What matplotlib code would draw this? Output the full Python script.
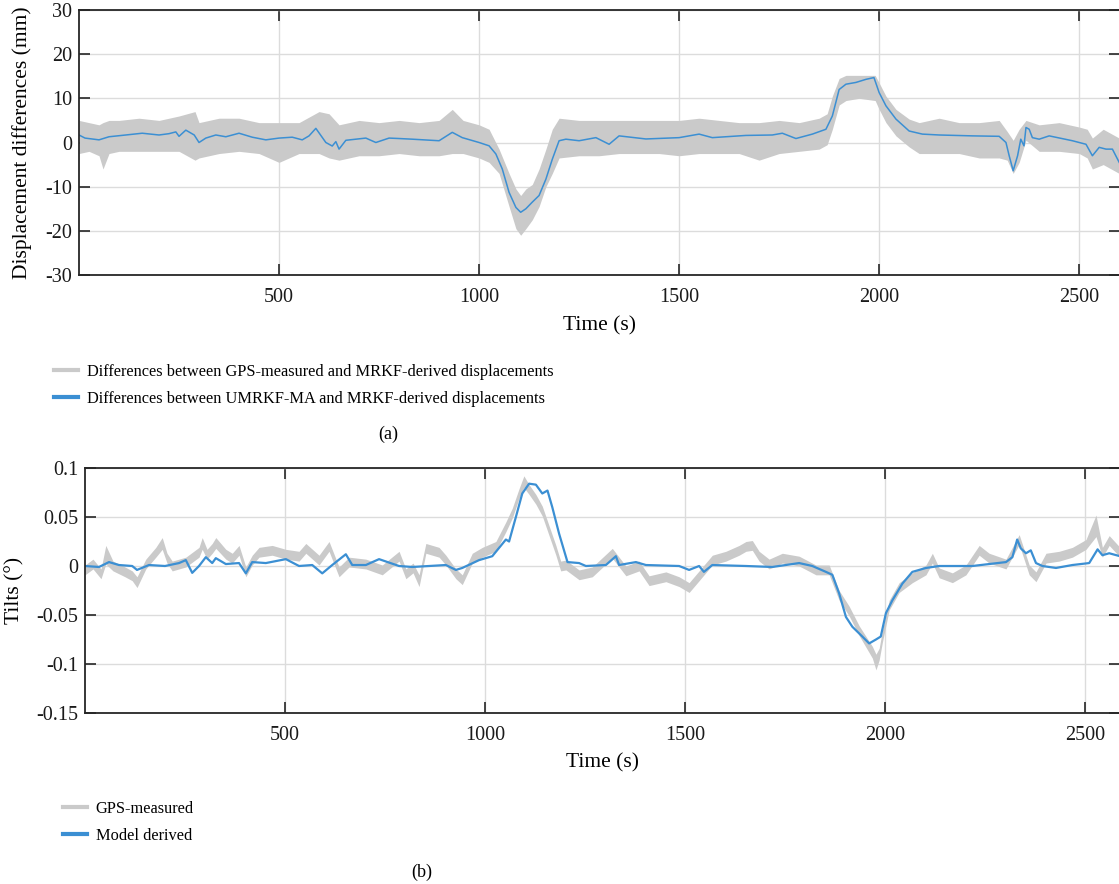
import numpy as np
import matplotlib
matplotlib.use('Agg')
import matplotlib.pyplot as plt
from matplotlib.lines import Line2D

plt.rcParams['font.family'] = ['Liberation Serif', 'DejaVu Serif']
plt.rcParams['axes.unicode_minus'] = False

# ---- (a) displacement differences (mm) ----
t_blue_a = [0, 15, 50, 75, 117, 158, 200, 225, 242, 250, 267, 288, 300, 317, 342, 367, 400, 433, 467, 500,
            533, 558, 575, 592, 617, 633, 642, 650, 667, 717, 742, 775, 800, 833, 900, 933, 958, 1000, 1025,
            1042, 1058, 1075, 1092, 1104, 1117, 1133, 1150, 1167, 1183, 1200, 1217, 1250, 1292, 1325, 1350,
            1417, 1500, 1550, 1583, 1667, 1733, 1758, 1792, 1833, 1867, 1883, 1900, 1917, 1942, 1967, 1987,
            2000, 2017, 2042, 2075, 2108, 2150, 2233, 2300, 2317, 2325, 2335, 2346, 2354, 2362, 2367, 2375,
            2383, 2400, 2425, 2483, 2517, 2533, 2550, 2567, 2583, 2600]
umrkf_a = [1.7, 1.0, 0.6, 1.3, 1.7, 2.1, 1.7, 2.0, 2.4, 1.4, 2.8, 1.7, 0.0, 1.0, 1.7, 1.3, 2.1, 1.2, 0.6, 1.0,
           1.2, 0.6, 1.5, 3.2, 0.0, -0.8, 0.2, -1.5, 0.5, 1.0, 0.0, 1.0, 0.9, 0.75, 0.4, 2.3, 1.1, 0.0, -0.75,
           -2.6, -6.0, -11.3, -14.7, -15.8, -15.0, -13.5, -12.0, -8.3, -3.8, 0.4, 0.75, 0.4, 1.1, -0.4, 1.5,
           0.8, 1.1, 1.9, 1.1, 1.6, 1.7, 2.1, 0.9, 1.9, 3.0, 6.0, 12.0, 13.2, 13.6, 14.3, 14.7,
           11.3, 8.3, 5.3, 2.6, 1.9, 1.7, 1.5, 1.4, 0.0, -3.0, -6.4, -3.0, 0.75, -0.75, 3.4, 3.0,
           1.1, 0.75, 1.5, 0.4, -0.4, -3.0, -1.1, -1.5, -1.5, -4.5]

t_gps_a = [0, 25, 50, 60, 75, 100, 150, 200, 250, 290, 300, 350, 400, 450, 500, 550, 600, 625, 650, 700,
           750, 800, 850, 900, 933, 960, 1000, 1025, 1050, 1075, 1092, 1104, 1117, 1133, 1150, 1167, 1183,
           1200, 1250, 1300, 1350, 1400, 1450, 1500, 1550, 1600, 1650, 1700, 1750, 1800, 1850, 1870, 1883,
           1900, 1917, 1950, 1990, 2000, 2017, 2042, 2075, 2100, 2150, 2200, 2250, 2300, 2320, 2335, 2350,
           2367, 2400, 2450, 2500, 2520, 2533, 2560, 2600]
gps_hi_a = [5, 4.5, 4, 4.5, 5, 5, 5.5, 5, 6, 7, 4.5, 5.5, 5.5, 4.5, 4.5, 4.5, 7, 6.5, 4, 5,
            4.5, 5, 4.5, 5, 7.5, 5, 4, 3, -1.5, -7, -10.5, -12, -10.5, -9.5, -6, -1.5, 3,
            5.5, 5, 5, 5, 5, 5, 5, 5.5, 5, 4.5, 4.5, 5, 4.5, 5.5, 6.5, 10.5,
            14.5, 15.2, 15.2, 15.2, 13.5, 10.5, 7.5, 5.3, 4.5, 5.5, 4.5, 4.5, 5, 2.5, 0.5, 3,
            5, 4, 4.5, 3.5, 3, 1, 3, 1]
gps_lo_a = [-2.5, -2, -3, -6, -2.5, -2, -2, -2, -2, -4, -3.5, -2.5, -2, -2.5, -4.5, -2.5, -2.5, -3.5, -4, -3,
            -3, -2.5, -3, -3, -2.5, -2.5, -3.5, -4.5, -7, -14.5, -19.5, -21, -19.5, -17.5, -14.5, -10, -7,
            -3.5, -3, -3, -2.5, -2.5, -2.5, -3, -2.5, -2.5, -2.5, -4, -2.5, -2, -1.5, -0.5, 3,
            8.5, 9.5, 10, 9.5, 7.5, 4.5, 1.5, -1, -2.5, -2.5, -2.5, -3.5, -3.5, -4, -7, -4.5,
            0.5, -2, -2, -2.5, -3.5, -6, -5, -7]

# ---- (b) tilts (deg) ----
t_blue_b = [0, 35, 60, 85, 118, 130, 160, 200, 235, 252, 268, 285, 302, 318, 327, 352, 385, 402, 418, 452,
            502, 535, 568, 593, 618, 652, 668, 702, 735, 785, 818, 902, 927, 943, 985, 1018, 1052, 1060, 1077,
            1093, 1110, 1127, 1143, 1156, 1168, 1185, 1206, 1235, 1252, 1302, 1327, 1335, 1377, 1402, 1485,
            1510, 1535, 1547, 1568, 1652, 1718, 1785, 1818, 1852, 1868, 1885, 1902, 1918, 1943, 1960, 1977,
            1989, 2002, 2018, 2043, 2068, 2102, 2135, 2218, 2302, 2318, 2330, 2339, 2352, 2364, 2377, 2393,
            2427, 2468, 2510, 2531, 2543, 2560, 2587]
model_b = [0.000, -0.001, 0.004, 0.001, 0.000, -0.004, 0.001, 0.000, 0.003, 0.006, -0.007, 0.000, 0.009, 0.003,
           0.008, 0.002, 0.003, -0.0075, 0.004, 0.003, 0.007, 0.000, 0.001, -0.0075, 0.001, 0.012, 0.001, 0.001,
           0.007, 0.000, -0.001, 0.001, -0.004, -0.002, 0.006, 0.010, 0.027, 0.025, 0.050, 0.074, 0.084, 0.083,
           0.074, 0.077, 0.060, 0.033, 0.004, 0.003, 0.000, 0.001, 0.010, 0.001, 0.004, 0.001, 0.000, -0.004,
           0.000, -0.006, 0.001, 0.000, -0.001, 0.003, 0.000, -0.006, -0.009, -0.028, -0.052, -0.062, -0.072,
           -0.079, -0.075, -0.072, -0.048, -0.035, -0.018, -0.006, -0.002, 0.000, 0.000, 0.004, 0.009, 0.027,
           0.018, 0.013, 0.016, 0.003, 0.000, -0.002, 0.001, 0.003, 0.017, 0.011, 0.013, 0.010]

t_gps_b = [0, 20, 40, 52, 70, 100, 118, 130, 152, 177, 193, 205, 218, 252, 285, 293, 305, 318, 327, 352, 368,
           385, 402, 418, 435, 468, 502, 535, 552, 585, 610, 635, 660, 702, 743, 785, 802, 820, 835, 852, 885,
           902, 927, 943, 968, 993, 1027, 1052, 1068, 1085, 1097, 1110, 1127, 1143, 1160, 1177, 1189, 1202,
           1235, 1268, 1318, 1352, 1385, 1410, 1452, 1485, 1510, 1535, 1568, 1602, 1635, 1652, 1668, 1685,
           1710, 1743, 1785, 1827, 1860, 1885, 1910, 1935, 1968, 1977, 1985, 1993, 2010, 2035, 2068, 2102,
           2118, 2135, 2168, 2202, 2235, 2260, 2302, 2335, 2360, 2377, 2402, 2435, 2468, 2502, 2527, 2543,
           2560, 2587]
gps_hi_b = [0.001, 0.007, -0.003, 0.021, 0.005, -0.001, -0.005, -0.011, 0.007, 0.019, 0.029, 0.013, 0.005,
            0.009, 0.019, 0.029, 0.017, 0.023, 0.029, 0.017, 0.013, 0.021, -0.001, 0.011, 0.019, 0.021, 0.017,
            0.015, 0.023, 0.011, 0.025, -0.001, 0.009, 0.007, 0.001, 0.015, -0.003, 0.003, -0.009, 0.023, 0.019,
            0.011, -0.003, -0.009, 0.013, 0.019, 0.025, 0.045, 0.059, 0.079, 0.092, 0.083, 0.073, 0.061, 0.041,
            0.021, 0.005, 0.006, -0.004, -0.001, 0.018, 0.000, 0.005, -0.010, -0.006, -0.011, -0.017, -0.005,
            0.011, 0.015, 0.021, 0.025, 0.026, 0.015, 0.007, 0.013, 0.010, 0.001, 0.001, -0.025, -0.041, -0.061,
            -0.082, -0.090, -0.084, -0.066, -0.035, -0.017, -0.007, 0.001, 0.013, -0.002, -0.007, 0.001, 0.021,
            0.013, 0.007, 0.032, 0.001, -0.006, 0.013, 0.015, 0.019, 0.027, 0.052, 0.019, 0.031, 0.019]
gps_lo_b = [-0.009, -0.003, -0.013, 0.002, -0.005, -0.011, -0.015, -0.022, -0.003, 0.009, 0.017, 0.003, -0.005,
            -0.001, 0.009, 0.017, 0.007, 0.013, 0.018, 0.007, 0.003, 0.011, -0.011, 0.001, 0.009, 0.011, 0.007,
            0.005, 0.013, 0.001, 0.015, -0.011, -0.001, -0.003, -0.009, 0.005, -0.013, -0.007, -0.021, 0.013,
            0.009, 0.001, -0.013, -0.019, 0.003, 0.009, 0.015, 0.035, 0.049, 0.069, 0.080, 0.073, 0.063, 0.051,
            0.031, 0.011, -0.005, -0.004, -0.014, -0.011, 0.008, -0.010, -0.005, -0.020, -0.016, -0.021, -0.027,
            -0.015, 0.001, 0.005, 0.011, 0.015, 0.016, 0.005, -0.003, 0.003, 0.000, -0.009, -0.009, -0.035,
            -0.051, -0.071, -0.094, -0.106, -0.096, -0.078, -0.045, -0.027, -0.017, -0.009, 0.003, -0.012,
            -0.017, -0.009, 0.011, 0.003, -0.003, 0.022, -0.009, -0.016, 0.003, 0.005, 0.009, 0.017, 0.030,
            0.009, 0.021, 0.009]

x_ticks = [500, 1000, 1500, 2000, 2500]
y_ticks_a = [-30, -20, -10, 0, 10, 20, 30]
y_ticks_b = [-0.15, -0.1, -0.05, 0, 0.05, 0.1]
y_labels_b = ['-0.15', '-0.1', '-0.05', '0', '0.05', '0.1']

labels_a = ['Differences between GPS-measured and MRKF-derived displacements',
            'Differences between UMRKF-MA and MRKF-derived displacements']
labels_b = ['GPS-measured', 'Model derived']

GRAY = '#cacaca'
BLUE = '#3b8fd3'
SPINE = '#262626'


def style_axes(ax):
    ax.grid(True, color='#dcdcdc', linewidth=1.0)
    ax.set_axisbelow(True)
    for s in ax.spines.values():
        s.set_color(SPINE)
        s.set_linewidth(1.3)
    ax.tick_params(direction='in', length=8, width=1.2, color=SPINE, top=True, right=True,
                   labelsize=14.5, labelcolor='#1a1a1a')
    ax.tick_params(axis='x', pad=9)
    ax.tick_params(axis='y', pad=5)
    ax.set_xticks(x_ticks)


fig = plt.figure(figsize=(11.19, 8.84), dpi=100)

ax1 = fig.add_axes([79 / 1119, 1 - 275 / 884, 1041 / 1119, 265 / 884])
ax1.fill_between(t_gps_a, gps_lo_a, gps_hi_a, color=GRAY, linewidth=0)
ax1.plot(t_blue_a, umrkf_a, color=BLUE, linewidth=1.1)
ax1.set_xlim(0, 2602)
ax1.set_ylim(-30, 30)
style_axes(ax1)
ax1.set_yticks(y_ticks_a)
ax1.set_ylabel('Displacement differences (mm)', fontsize=15.5)
ax1.yaxis.set_label_coords(-0.045, 0.5)
ax1.set_xlabel('Time (s)', fontsize=15.5)
ax1.xaxis.set_label_coords(0.5, -0.155)

ax2 = fig.add_axes([85 / 1119, 1 - 713 / 884, 1035 / 1119, 245 / 884])
ax2.fill_between(t_gps_b, gps_lo_b, gps_hi_b, color=GRAY, linewidth=0)
ax2.plot(t_blue_b, model_b, color=BLUE, linewidth=1.6)
ax2.set_xlim(0, 2587)
ax2.set_ylim(-0.15, 0.1)
style_axes(ax2)
ax2.set_yticks(y_ticks_b)
ax2.set_yticklabels(y_labels_b)
ax2.set_ylabel('Tilts (°)', fontsize=15.5)
ax2.yaxis.set_label_coords(-0.058, 0.5)
ax2.set_xlabel('Time (s)', fontsize=15.5)
ax2.xaxis.set_label_coords(0.5, -0.163)

handles = [Line2D([], [], color=GRAY, linewidth=3), Line2D([], [], color=BLUE, linewidth=3)]
fig.legend(handles, labels_a, loc='upper left', bbox_to_anchor=(54 / 1119, 1 - 364 / 884),
           frameon=False, fontsize=11.8, handlelength=1.45, handletextpad=0.55,
           borderpad=0, borderaxespad=0, labelspacing=0.68)
fig.legend(handles, labels_b, loc='upper left', bbox_to_anchor=(63 / 1119, 1 - 801 / 884),
           frameon=False, fontsize=11.8, handlelength=1.45, handletextpad=0.55,
           borderpad=0, borderaxespad=0, labelspacing=0.68)

fig.text(388 / 1119, 1 - 434 / 884, '(a)', ha='center', va='center', fontsize=13)
fig.text(422 / 1119, 1 - 872 / 884, '(b)', ha='center', va='center', fontsize=13)

fig.savefig('out.png', dpi=100)
